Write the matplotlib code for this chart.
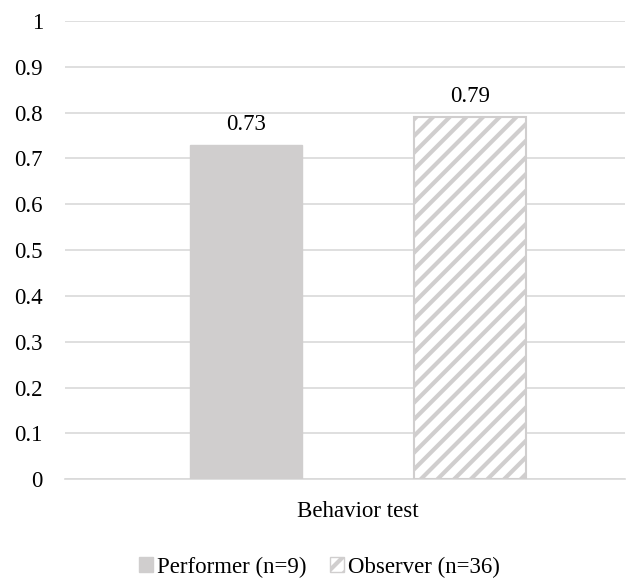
import matplotlib
matplotlib.use("Agg")
from matplotlib import pyplot as plt
from matplotlib.patches import Patch

plt.rcParams['font.family'] = ['Liberation Serif', 'DejaVu Serif']
plt.rcParams['hatch.linewidth'] = 3.0
plt.rcParams['hatch.color'] = '#d0cece'

category = "Behavior test"
groups = ["Performer (n=9)", "Observer (n=36)"]
values = [0.73, 0.79]
yticks = [0, 0.1, 0.2, 0.3, 0.4, 0.5, 0.6, 0.7, 0.8, 0.9, 1]
ytick_labels = ["0", "0.1", "0.2", "0.3", "0.4", "0.5", "0.6", "0.7", "0.8", "0.9", "1"]

gray = '#d0cece'
fs = 16.5

fig = plt.figure(figsize=(6.39, 5.83), dpi=100)
ax = fig.add_axes([0.102, 0.178, 0.876, 0.786])

pos = [-0.5, 0.5]
# solid bar
ax.bar(pos[0], values[0], width=0.5, color=gray, edgecolor=gray, linewidth=1, zorder=3)
# hatched bar
ax.bar(pos[1], values[1], width=0.5, facecolor='white', edgecolor=gray,
       hatch='//', linewidth=1.5, zorder=3)

for x, v in zip(pos, values):
    ax.text(x, v + 0.022, f"{v:.2f}", ha='center', va='bottom', fontsize=fs)

ax.set_ylim(0, 1)
ax.set_xlim(-1.308, 1.192)
ax.set_yticks(yticks)
ax.set_yticklabels(ytick_labels, fontsize=fs)
ax.set_xticks([0])
ax.set_xticklabels([category], fontsize=fs)
ax.tick_params(axis='y', length=0, pad=16)
ax.tick_params(axis='x', length=0, pad=16)
ax.grid(axis='y', color='#d9d9d9', linewidth=1.2, zorder=0)
for s in ['top', 'right', 'left']:
    ax.spines[s].set_visible(False)
ax.spines['bottom'].set_color('#d9d9d9')
ax.spines['bottom'].set_linewidth(1.2)

handles = [Patch(facecolor=gray, edgecolor=gray, label=groups[0]),
           Patch(facecolor='white', edgecolor=gray, hatch='//', label=groups[1])]
fig.legend(handles=handles, loc='center', bbox_to_anchor=(0.5, 0.027), ncol=2,
           frameon=False, fontsize=fs, handlelength=0.6, handleheight=0.6,
           handletextpad=0.2, columnspacing=1.0)

fig.savefig('out.png', dpi=100)
